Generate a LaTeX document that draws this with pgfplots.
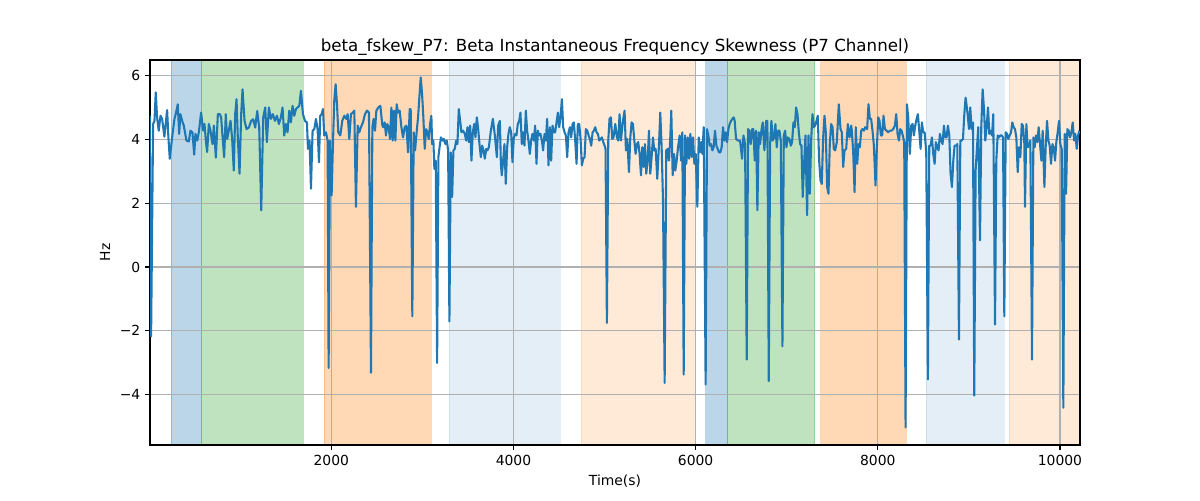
\documentclass[border=0pt]{standalone}
\usepackage{pgfplots}
\pgfplotsset{compat=1.18}
\usepackage{pgfplotstable}
\usepackage{fontspec}
\setmainfont{DejaVu Sans}
\definecolor{tabblue}{HTML}{1F77B4}
\definecolor{tabgreen}{HTML}{2CA02C}
\definecolor{taborange}{HTML}{FF7F0E}
\definecolor{gridgray}{HTML}{B0B0B0}
\pgfplotstableread{
x y
7 4.75
22 -2.18
44 4.49
59 4.59
73 5.48
88 4.69
106 4.28
125 4.75
143 4.65
168 4.09
198 4.93
212 4.07
227 3.40
253 4.07
278 4.64
300 4.90
315 5.11
330 4.18
344 4.80
363 4.59
381 4.44
410 3.97
436 3.94
454 4.28
476 4.23
495 3.53
509 4.18
528 3.97
546 4.23
571 4.85
593 4.28
608 4.49
623 3.97
637 3.61
656 4.49
674 4.28
696 3.86
711 4.44
733 3.43
755 4.80
777 4.80
791 4.70
806 4.11
824 3.45
842 4.80
857 4.02
875 4.28
894 4.59
912 4.02
930 3.03
945 4.80
960 5.27
974 4.07
993 2.93
1011 4.80
1026 5.58
1048 4.59
1070 4.33
1095 4.38
1121 4.59
1143 4.64
1165 4.38
1187 4.90
1209 4.38
1231 1.78
1253 4.70
1275 5.01
1293 3.92
1315 5.01
1337 4.65
1359 4.80
1381 4.59
1403 4.75
1425 4.49
1447 4.70
1465 5.01
1484 4.13
1502 4.49
1520 4.23
1539 4.91
1557 4.54
1575 5.06
1594 4.75
1612 4.96
1630 5.01
1649 5.06
1667 5.53
1689 4.80
1711 4.59
1733 4.54
1744 3.71
1762 3.97
1777 2.46
1795 4.28
1814 4.33
1832 4.65
1850 4.33
1865 3.29
1879 4.75
1894 4.80
1909 4.96
1923 4.13
1942 4.23
1960 3.97
1971 -3.17
1986 3.97
2004 2.25
2019 3.92
2033 5.22
2048 5.74
2063 5.11
2077 4.23
2099 4.13
2121 4.59
2143 4.75
2165 4.65
2180 4.80
2198 4.02
2216 4.80
2238 4.85
2253 4.91
2271 1.89
2290 4.44
2308 4.23
2326 4.39
2348 4.54
2370 4.80
2392 4.91
2414 4.85
2436 -3.32
2451 4.39
2465 4.65
2480 4.28
2495 4.91
2517 5.01
2539 5.06
2561 4.44
2572 4.39
2586 4.54
2601 4.13
2616 4.49
2630 4.39
2645 4.02
2660 5.01
2674 3.97
2689 4.91
2704 3.97
2718 5.11
2733 4.85
2751 4.91
2770 4.39
2788 4.07
2806 4.39
2825 4.44
2843 3.60
2861 4.96
2872 4.96
2890 -1.55
2905 4.23
2920 3.66
2934 4.13
2953 4.70
2967 5.32
2982 5.95
2997 5.43
3011 4.70
3026 3.71
3041 4.33
3055 4.23
3070 4.02
3085 4.49
3099 4.75
3107 3.86
3121 3.97
3132 3.08
3147 3.34
3162 -3.01
3176 3.45
3191 3.81
3205 4.07
3220 3.97
3235 4.02
3253 3.86
3268 3.97
3283 3.66
3297 -1.71
3312 3.60
3327 2.20
3341 3.66
3356 3.71
3371 3.97
3385 3.86
3400 4.96
3415 4.59
3429 4.23
3448 4.28
3466 4.18
3481 3.97
3495 4.39
3510 3.92
3525 4.44
3539 3.34
3554 4.23
3569 4.49
3583 4.07
3598 4.70
3613 4.33
3627 3.86
3642 3.45
3657 3.81
3671 3.66
3686 3.40
3701 3.71
3715 3.66
3730 3.76
3752 4.28
3774 4.65
3796 4.13
3818 3.45
3832 4.44
3851 4.59
3862 3.24
3872 2.88
3887 3.34
3901 3.86
3916 2.61
3931 3.76
3945 4.18
3960 4.39
3975 4.23
3989 3.29
4004 4.07
4019 4.18
4033 4.13
4048 4.49
4063 4.59
4077 4.85
4092 3.86
4107 4.23
4121 3.81
4136 4.91
4150 4.28
4165 3.97
4180 3.55
4194 3.97
4209 4.18
4224 3.97
4238 4.44
4253 3.24
4268 4.28
4282 4.13
4297 4.18
4312 3.97
4326 3.66
4341 4.18
4356 3.97
4370 4.65
4385 3.19
4400 4.39
4414 3.34
4429 4.44
4444 4.23
4458 4.23
4473 4.54
4488 4.85
4502 4.39
4517 4.70
4532 5.27
4546 4.39
4561 4.23
4576 4.13
4590 3.45
4605 4.23
4620 4.39
4634 4.07
4649 4.49
4663 4.54
4678 3.97
4693 3.24
4707 4.49
4722 4.49
4737 4.02
4751 3.19
4766 3.40
4781 3.45
4795 4.33
4810 4.28
4825 4.13
4839 4.02
4854 3.81
4869 4.23
4883 4.28
4898 4.39
4913 4.23
4927 4.18
4942 3.97
4957 4.02
4971 4.07
4986 3.92
5001 3.81
5011 3.71
5026 -1.76
5041 3.97
5055 4.65
5070 4.70
5085 4.02
5099 4.07
5118 4.49
5136 4.07
5151 3.97
5165 4.80
5180 3.97
5202 4.59
5220 4.91
5235 3.66
5250 4.02
5268 2.98
5283 4.07
5297 4.54
5312 4.49
5327 3.97
5341 3.55
5356 3.86
5370 3.92
5385 3.55
5400 2.88
5414 3.76
5429 3.14
5444 3.86
5458 2.93
5473 3.34
5488 4.28
5502 2.93
5517 3.45
5532 4.07
5546 3.66
5561 3.71
5579 2.77
5598 3.86
5612 4.85
5627 3.76
5642 2.09
5660 -3.64
5678 3.66
5693 3.71
5708 3.34
5722 4.07
5733 4.91
5748 2.88
5763 3.55
5777 3.03
5792 3.34
5807 3.76
5825 4.13
5840 3.34
5854 4.23
5869 -3.38
5884 4.13
5898 3.24
5913 4.07
5928 3.40
5942 4.18
5957 3.45
5972 4.07
5986 3.24
6001 3.55
6019 1.89
6034 4.07
6048 3.60
6063 3.92
6074 3.55
6089 4.39
6110 -3.69
6125 4.33
6140 4.13
6154 3.81
6169 3.86
6184 3.66
6198 3.76
6213 4.28
6228 3.81
6242 3.71
6257 3.60
6272 3.60
6286 3.76
6301 4.39
6316 3.97
6330 4.23
6345 3.92
6360 4.33
6374 4.49
6389 4.59
6404 4.65
6418 4.70
6429 4.59
6444 4.02
6466 3.97
6488 3.97
6510 3.40
6525 4.13
6543 3.86
6561 -2.91
6576 4.33
6590 4.28
6605 3.86
6620 4.33
6634 4.33
6649 3.34
6664 4.28
6678 1.78
6693 4.23
6708 3.86
6722 4.28
6737 4.54
6755 3.66
6774 4.59
6788 4.59
6803 -3.58
6818 3.86
6832 4.59
6847 3.97
6862 4.07
6876 4.49
6891 3.76
6906 4.28
6920 4.28
6935 3.97
6953 -2.49
6968 4.13
6983 4.28
6997 3.76
7012 4.07
7030 4.02
7045 3.81
7059 3.92
7074 4.54
7089 4.39
7103 5.01
7118 4.80
7133 4.23
7147 3.86
7162 3.81
7176 2.20
7191 3.24
7206 4.13
7224 1.63
7239 4.13
7254 2.30
7268 3.97
7283 4.80
7297 4.39
7312 4.44
7327 4.59
7341 4.75
7356 3.34
7371 2.72
7385 2.61
7400 4.07
7415 4.75
7429 4.23
7444 2.51
7459 2.30
7473 3.86
7488 4.49
7503 4.39
7517 3.71
7532 3.66
7550 3.92
7572 5.11
7591 4.33
7605 4.23
7620 3.14
7635 3.66
7653 3.71
7671 4.49
7690 4.07
7708 4.44
7715 4.28
7730 3.60
7745 2.35
7759 4.39
7774 3.24
7788 3.86
7803 3.76
7818 4.28
7832 4.33
7847 4.28
7862 4.39
7883 4.33
7898 5.11
7913 4.65
7927 4.65
7942 4.28
7957 3.81
7975 2.56
7990 3.76
8005 4.70
8019 4.59
8034 4.13
8048 4.13
8063 4.75
8078 4.33
8096 4.28
8114 4.23
8133 4.28
8151 4.28
8169 4.33
8188 4.44
8202 4.80
8217 4.18
8232 3.97
8246 4.33
8261 4.28
8279 4.07
8290 3.92
8305 -5.04
8320 5.11
8334 4.70
8352 3.55
8367 4.44
8382 4.49
8396 4.13
8411 4.44
8426 4.65
8440 4.80
8455 4.28
8470 3.71
8484 4.54
8499 4.23
8514 4.23
8532 3.60
8550 -3.53
8565 3.81
8580 3.81
8594 4.07
8609 3.55
8624 3.24
8638 3.92
8653 3.76
8667 3.66
8682 4.18
8697 3.97
8711 3.86
8726 4.44
8741 4.07
8755 4.07
8770 4.44
8785 4.13
8799 2.93
8814 2.51
8829 3.34
8843 3.81
8858 3.81
8873 3.86
8891 -2.28
8906 3.97
8920 3.97
8935 4.02
8950 4.80
8964 5.32
8971 5.17
8986 4.80
9001 4.33
9015 5.01
9030 4.33
9045 4.54
9059 -4.04
9074 3.03
9089 3.76
9103 4.39
9122 0.84
9136 4.39
9151 5.58
9166 4.96
9180 3.97
9195 4.39
9210 5.01
9224 4.18
9239 4.28
9254 4.13
9268 4.80
9287 -1.81
9301 3.34
9316 4.13
9331 4.07
9345 4.13
9360 4.13
9375 4.07
9389 -1.55
9404 4.23
9419 4.18
9433 4.02
9448 4.13
9463 4.23
9477 4.54
9492 4.39
9506 4.33
9521 4.07
9536 2.98
9550 3.76
9565 3.45
9580 4.49
9594 4.44
9609 3.86
9616 1.89
9631 4.49
9645 3.76
9660 3.81
9675 3.97
9693 -2.91
9708 4.07
9722 3.76
9737 4.13
9752 3.92
9766 4.39
9781 3.86
9796 3.34
9810 4.28
9829 2.51
9843 3.76
9858 4.59
9873 3.97
9887 3.81
9902 3.24
9917 3.86
9931 3.76
9946 3.34
9960 3.92
9975 4.23
9990 4.59
10004 3.86
10019 3.71
10037 -4.42
10052 4.18
10067 2.30
10081 4.33
10096 4.28
10111 4.07
10125 4.23
10140 4.54
10155 3.97
10169 4.18
10184 3.71
10199 4.13
10213 4.28
}\datatable
\begin{document}
\begin{tikzpicture}
\begin{axis}[
  set layers,
  at={(0,0)}, anchor=south west,
  scale only axis, width=669.6pt, height=277.2pt,
  xmin=10, xmax=10220, ymin=-5.59, ymax=6.50,
  xtick={2000,4000,6000,8000,10000},
  scaled x ticks=false,
  ytick={-4,-2,0,2,4,6},
  yticklabels={−4,−2,0,2,4,6},
  /pgf/number format/1000 sep={},
  /pgf/number format/assume math mode=true,
  tick align=outside, tick pos=left,
  major tick length=3.5pt,
  tick style={black, line width=0.8pt},
  axis line style={line width=0.8pt},
  grid=major,
  grid style={gridgray, line width=0.8pt},
  xlabel={Time(s)}, ylabel={Hz},
  title={beta\_fskew\_P7: Beta Instantaneous Frequency Skewness (P7 Channel)},
  title style={font=\fontsize{12}{14}\selectfont, at={(0.5,1)}, anchor=south, yshift=-6.5pt},
  span/.style={on layer=axis background, fill=#1, draw=#1},
]
\addplot[span=tabblue, fill opacity=0.3, draw opacity=0.3] coordinates {(242,-5.59) (242,6.5) (571,6.5) (571,-5.59)} -- cycle;
\addplot[span=tabgreen, fill opacity=0.3, draw opacity=0.3] coordinates {(571,-5.59) (571,6.5) (1692,6.5) (1692,-5.59)} -- cycle;
\addplot[span=taborange, fill opacity=0.3, draw opacity=0.3] coordinates {(1923,-5.59) (1923,6.5) (3099,6.5) (3099,-5.59)} -- cycle;
\addplot[span=tabblue, fill opacity=0.12, draw opacity=0.12] coordinates {(3297,-5.59) (3297,6.5) (4516,6.5) (4516,-5.59)} -- cycle;
\addplot[span=taborange, fill opacity=0.16, draw opacity=0.16] coordinates {(4747,-5.59) (4747,6.5) (6000,6.5) (6000,-5.59)} -- cycle;
\addplot[span=tabblue, fill opacity=0.3, draw opacity=0.3] coordinates {(6110,-5.59) (6110,6.5) (6352,6.5) (6352,-5.59)} -- cycle;
\addplot[span=tabgreen, fill opacity=0.3, draw opacity=0.3] coordinates {(6352,-5.59) (6352,6.5) (7308,6.5) (7308,-5.59)} -- cycle;
\addplot[span=taborange, fill opacity=0.3, draw opacity=0.3] coordinates {(7374,-5.59) (7374,6.5) (8308,6.5) (8308,-5.59)} -- cycle;
\addplot[span=tabblue, fill opacity=0.12, draw opacity=0.12] coordinates {(8527,-5.59) (8527,6.5) (9385,6.5) (9385,-5.59)} -- cycle;
\addplot[span=taborange, fill opacity=0.16, draw opacity=0.16] coordinates {(9440,-5.59) (9440,6.5) (10220,6.5) (10220,-5.59)} -- cycle;
\addplot[tabblue, line width=1.5pt, mark=none, line join=round] table[x=x,y=y] {\datatable};
\end{axis}
\pgfresetboundingbox
\path[use as bounding box] (-108pt,-39.6pt) rectangle (756pt,320.4pt);
\end{tikzpicture}
\end{document}
